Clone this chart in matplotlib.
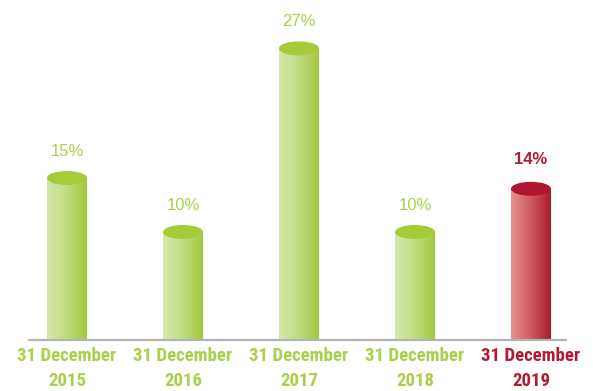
import numpy as np
import matplotlib
matplotlib.use("Agg")
import matplotlib.pyplot as plt
from matplotlib.patches import Ellipse, Rectangle
from matplotlib.colors import LinearSegmentedColormap
from matplotlib import font_manager

categories = ["31 December\n2015", "31 December\n2016", "31 December\n2017",
              "31 December\n2018", "31 December\n2019"]
values = [15, 10, 27, 10, 14]
labels = ["15%", "10%", "27%", "10%", "14%"]
highlight = [False, False, False, False, True]

green_grad = LinearSegmentedColormap.from_list("g", ["#d6e8ad", "#c0dc80", "#a2c83c"])
red_grad = LinearSegmentedColormap.from_list("r", ["#e39390", "#cf5a60", "#ad1830"])
green_top = "#a5cb38"
red_top = "#b0152f"
green_text = "#a9d04b"
red_text = "#b01b33"

# pick a condensed bold face for the category labels if one is available
names = {f.name for f in font_manager.fontManager.ttflist}
cond_fams = [n for n in ["Liberation Sans Narrow", "Roboto Condensed", "Open Sans Condensed"]
             if n in names]
cat_font = dict(family=cond_fams + ["DejaVu Sans"], fontstretch="condensed")
cat_size = 13.5 if cond_fams else 11.5

W, H = 593, 391
fig = plt.figure(figsize=(W / 100, H / 100), dpi=100)
ax = fig.add_axes([0, 0, 1, 1])
px_x = 116.0   # pixels per category
px_y = 10.8    # pixels per percent
x0_px, base_px = 67.0, 51.0
ax.set_xlim(-x0_px / px_x, (W - x0_px) / px_x)
ax.set_ylim(-base_px / px_y, (H - base_px) / px_y)
ax.axis("off")

bw = 40 / px_x
eh = 14 / px_y
grad = np.linspace(0, 1, 256).reshape(1, -1)

for i, (v, lab, hl) in enumerate(zip(values, labels, highlight)):
    cmap = red_grad if hl else green_grad
    top = red_top if hl else green_top
    rect = Rectangle((i - bw / 2, 0), bw, v, facecolor="none", edgecolor="none")
    ax.add_patch(rect)
    im = ax.imshow(grad, cmap=cmap, extent=(i - bw / 2, i + bw / 2, 0, v),
                   aspect="auto", zorder=2, interpolation="bilinear")
    im.set_clip_path(rect)
    ax.add_patch(Ellipse((i, v), bw, eh, facecolor=top, edgecolor="none", zorder=3))
    ax.text(i, v + eh / 2 + (1.4 if hl else 1.15), lab, ha="center", va="bottom",
            fontsize=12, color=red_text if hl else green_text,
            fontweight="bold" if hl else "normal",
            family=["Liberation Sans", "DejaVu Sans"])
    ax.text(i, -0.65, categories[i], ha="center", va="top", fontsize=cat_size,
            fontweight="bold", color=red_text if hl else green_text,
            linespacing=1.5, **cat_font)

ax.plot([(28 - x0_px) / px_x, (567 - x0_px) / px_x], [0, 0],
        color="#b3b3b3", lw=1.6, zorder=4, solid_capstyle="butt")

fig.savefig("out.png", dpi=100)
